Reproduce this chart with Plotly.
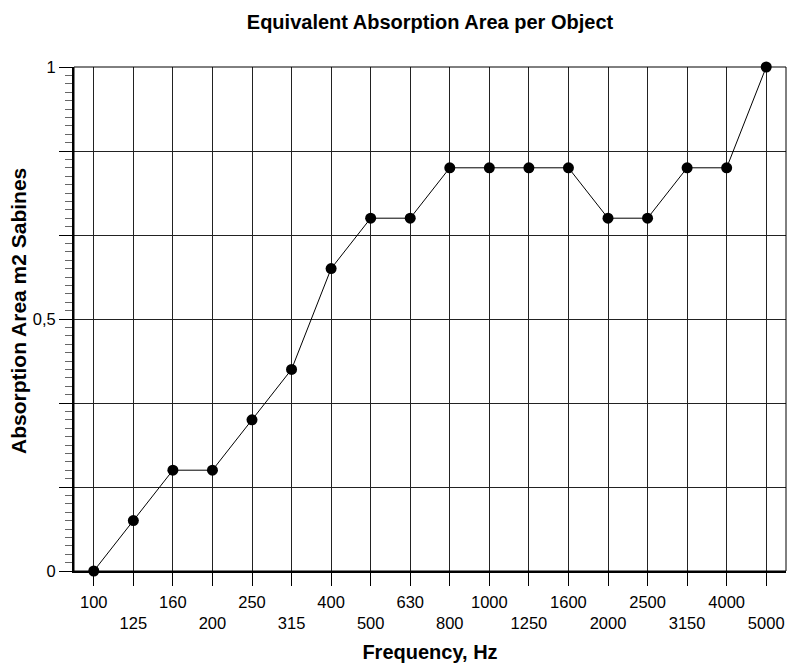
import plotly.graph_objects as go

freqs = ["100", "125", "160", "200", "250", "315", "400", "500", "630", "800",
         "1000", "1250", "1600", "2000", "2500", "3150", "4000", "5000"]
absorption = [0.0, 0.1, 0.2, 0.2, 0.3, 0.4, 0.6, 0.7, 0.7, 0.8,
              0.8, 0.8, 0.8, 0.7, 0.7, 0.8, 0.8, 1.0]
y_tickvals = [0, 1/6, 2/6, 3/6, 4/6, 5/6, 1]
y_ticktext = ["0", "", "", "0,5", "", "", "1"]
y_minorvals = [i / 60 for i in range(61) if i % 10 != 0]

x_idx = list(range(len(freqs)))
x_ticktext = [f if i % 2 == 0 else "<br>" + f for i, f in enumerate(freqs)]

FONT = "Liberation Sans, Arial, Helvetica, sans-serif"
W, H = 790, 669

fig = go.Figure()
fig.add_trace(go.Scatter(
    x=x_idx, y=absorption, mode="lines+markers",
    line=dict(color="black", width=1),
    marker=dict(color="black", size=11),
    cliponaxis=False, showlegend=False,
))

fig.update_layout(
    width=W, height=H,
    margin=dict(l=74, r=4, t=67, b=98),
    paper_bgcolor="white", plot_bgcolor="white",
    font=dict(family=FONT, size=16.5, color="black"),
    title=dict(text="<b>Equivalent Absorption Area per Object</b>",
               x=0.5, xref="paper", y=1 - 22/H, yref="container",
               xanchor="center", yanchor="middle",
               font=dict(size=20, family=FONT, color="black")),
    shapes=[dict(type="rect", xref="paper", yref="paper", x0=0, y0=0, x1=1, y1=1,
                 line=dict(color="black", width=1), layer="above")],
    annotations=[dict(text="<b>Absorption Area m2 Sabines</b>", textangle=-90,
                      xref="paper", yref="paper", x=0, y=0.5,
                      xanchor="center", yanchor="middle", xshift=-56, yshift=8,
                      showarrow=False, font=dict(size=21, family=FONT, color="black"))],
)

fig.update_xaxes(
    range=[-0.5, 17.5], tickmode="array", tickvals=x_idx, ticktext=x_ticktext,
    tickangle=0,
    showgrid=True, gridcolor="#222", gridwidth=1,
    ticks="outside", ticklen=13, tickcolor="black", tickwidth=1,
    ticklabelstandoff=2,
    showline=True, linecolor="black", linewidth=2,
    zeroline=False, automargin=False,
    tickfont=dict(size=16.5, family=FONT),
    title=dict(text="<b>Frequency, Hz</b>", font=dict(size=20, family=FONT), standoff=14),
)
fig.update_yaxes(
    range=[0, 1], tickmode="array", tickvals=y_tickvals, ticktext=y_ticktext,
    showgrid=True, gridcolor="#222", gridwidth=1,
    ticks="outside", ticklen=13, tickcolor="black", tickwidth=1,
    ticklabelstandoff=0,
    minor=dict(tickmode="array", tickvals=y_minorvals, ticks="outside", ticklen=7,
               tickcolor="#666", tickwidth=1, showgrid=False),
    showline=True, linecolor="black", linewidth=2,
    zeroline=False, automargin=False,
    tickfont=dict(size=16.5, family=FONT),
)

fig.write_html(
    "out.html",
    config={"displayModeBar": False},
    post_script="document.body.style.margin='0';document.body.style.overflow='hidden';",
)
